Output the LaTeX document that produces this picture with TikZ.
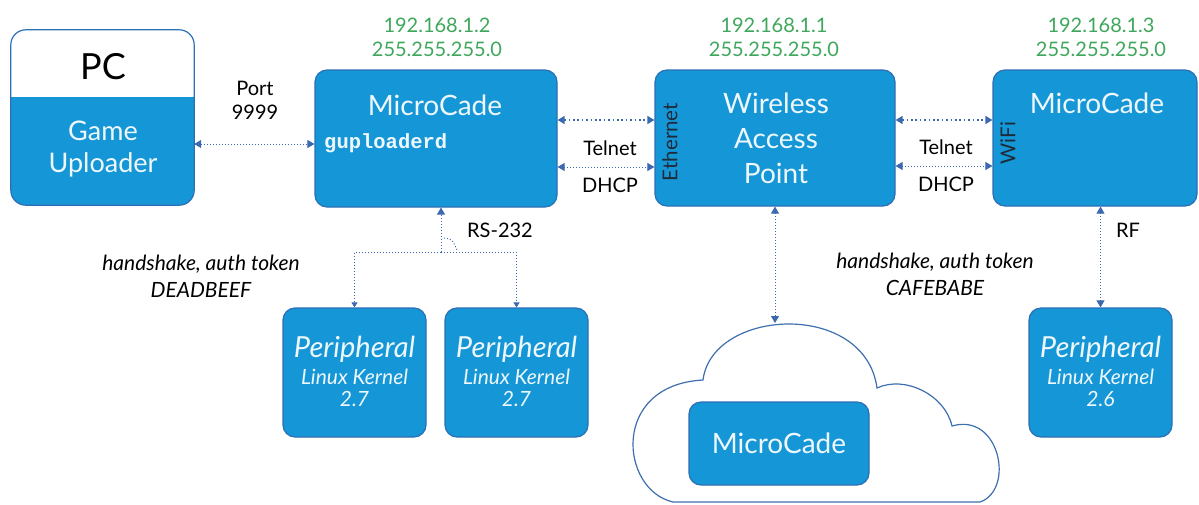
\documentclass[tikz,border=0pt]{standalone}
\usepackage{fontspec}
\setmainfont{Lato}
\setmonofont{Liberation Mono}
\usetikzlibrary{arrows.meta,calc}
\definecolor{boxblue}{HTML}{1596D6}
\definecolor{boxborder}{HTML}{2C6FB4}
\definecolor{ipgreen}{HTML}{3FA75C}
\definecolor{arrowblue}{HTML}{3B68B0}
\definecolor{boxtext}{HTML}{EEF8FC}
\definecolor{sidetext}{HTML}{1E2B38}
\definecolor{cloudline}{HTML}{3E6FAE}
\begin{document}
\begin{tikzpicture}[x=1pt,y=-1pt,
  >={Triangle[width=8pt,length=7pt]},
  box/.style={draw=boxborder, line width=1.2pt, fill=boxblue, rounded corners=12pt, inner sep=0pt},
  ttl/.style={text=boxtext, font=\fontsize{28}{35}\selectfont, align=center, inner sep=0pt},
  ptl/.style={text=boxtext, font=\fontsize{29}{29}\selectfont\itshape, inner sep=0pt},
  psub/.style={text=boxtext, font=\fontsize{21}{21}\selectfont\itshape, inner sep=0pt},
  ip/.style={text=ipgreen, font=\fontsize{20}{24}\selectfont, align=center, inner sep=0pt},
  lbl/.style={text=black, font=\fontsize{20}{24}\selectfont, align=center, inner sep=0pt},
  itl/.style={text=black, font=\fontsize{21}{27}\selectfont\itshape, align=center, inner sep=0pt},
  side/.style={text=sidetext, font=\fontsize{20.5}{20}\selectfont, rotate=90, inner sep=0pt},
  link/.style={draw=arrowblue, line width=0.9pt, dash pattern=on 1pt off 2pt},
  linkb/.style={draw=arrowblue, line width=1.6pt, dash pattern=on 1.6pt off 2.8pt},
  smalltip/.style={-{Triangle[width=6pt,length=5pt]}}
]
\useasboundingbox (0,0) rectangle (1199,504);

% PC box
\node[minimum width=183pt, minimum height=175pt, inner sep=0pt] (pc) at (102.5,117.5) {};
\begin{scope}
  \clip[rounded corners=15pt] (pc.south west) rectangle (pc.north east);
  \fill[white] (pc.south west) rectangle (pc.north east);
  \fill[boxblue] (pc.south west) rectangle (pc.east |- 0,97);
\end{scope}
\draw[boxborder, line width=1.2pt, rounded corners=15pt] (pc.south west) rectangle (pc.north east);
\node[text=black, font=\fontsize{36}{36}\selectfont, inner sep=0pt] (pct) at (103,67) {PC};
\node[ttl, font=\fontsize{27}{32}\selectfont] (gut) at (103,149) {Game\\Uploader};

% main boxes
\node[box, minimum width=242pt, minimum height=137pt] (mc1) at (436,138.5) {};
\node[box, minimum width=240pt, minimum height=136pt] (wap) at (775,138) {};
\node[box, minimum width=204pt, minimum height=136pt] (mc3) at (1095,138) {};

\node[ttl] (mc1t) at (435,105) {MicroCade};
\node[text=boxtext, font=\fontsize{20.5}{20}\selectfont\ttfamily\bfseries, anchor=west, inner sep=0pt] (gup) at (324,143) {guploaderd};
\node[ttl] (wapt) at (776,138) {Wireless\\Access\\Point};
\node[ttl] (mc3t) at (1097,103) {MicroCade};
\node[side] (eth) at (670,142) {Ethernet};
\node[side] (wifi) at (1008,143) {WiFi};

% IP labels
\node[ip] (ip2) at (437,37) {192.168.1.2\\255.255.255.0};
\node[ip] (ip1) at (774,37) {192.168.1.1\\255.255.255.0};
\node[ip] (ip3) at (1101,37) {192.168.1.3\\255.255.255.0};

% peripherals
\node[box, minimum width=143pt, minimum height=129pt] (p1) at (354.5,372.5) {};
\node[box, minimum width=143pt, minimum height=129pt] (p2) at (516.5,372.5) {};
\node[box, minimum width=143pt, minimum height=129pt] (p3) at (1100.5,372.5) {};
\foreach \p/\v in {p1/2.7,p2/2.7,p3/2.6}{
  \node[ptl] (\p a) at ($(\p.north)+(0,42)$) {Peripheral};
  \node[psub] (\p b) at ($(\p.north)+(0,69)$) {Linux Kernel};
  \node[psub] (\p c) at ($(\p.north)+(0,92)$) {\v};
}

% cloud
\draw[cloudline, line width=1.2pt, fill=white]
  (673,502) .. controls (620,490) and (610,385) .. (703,380)
  .. controls (712,308) and (865,300) .. (877,388)
  .. controls (905,375) and (945,395) .. (952,426)
  .. controls (1000,412) and (1015,490) .. (980,502) -- cycle;
\coordinate (cloudtop) at (775,323);
\node[box, minimum width=180pt, minimum height=83pt] (cmc) at (779,443.5) {};
\node[ttl] (cmct) at (779,443.5) {MicroCade};

% labels
\node[lbl] (port) at (255,100) {Port\\9999};
\node[lbl] (tel1) at (610,148) {Telnet};
\node[lbl] (dh1) at (610,185) {DHCP};
\node[lbl] (tel2) at (946,147) {Telnet};
\node[lbl] (dh2) at (946,184) {DHCP};
\node[lbl] (rs) at (500,230) {RS-232};
\node[lbl] (rf) at (1128,230) {RF};
\node[itl] (hs1) at (201,276) {handshake, auth token\\DEADBEEF};
\node[itl] (hs2) at (935,274) {handshake, auth token\\CAFEBABE};

% connectors
\draw[link,<->] (pc.east |- 0,144) -- (mc1.west |- 0,144);
\draw[linkb,<->] (mc1.east |- 0,120) -- (wap.west |- 0,120);
\draw[link,<->] (mc1.east |- 0,167) -- (wap.west |- 0,167);
\draw[linkb,<->] (wap.east |- 0,120) -- (mc3.west |- 0,120);
\draw[link,<->] (wap.east |- 0,166) -- (mc3.west |- 0,166);
\draw[link,<->] (wap.south) -- (cloudtop);
\draw[link,<->] (p3.north |- mc3.south) -- (p3.north);

\coordinate (rsj) at (441,252);
\draw[link,->] (rsj) -- (rsj |- mc1.south);
\draw[link,smalltip] (rsj) -| (p1.north);
\draw[link,smalltip] (rsj) -| (p2.north);
\draw[link] (444,238) .. controls (452,239) .. (457,250);
\end{tikzpicture}
\end{document}
